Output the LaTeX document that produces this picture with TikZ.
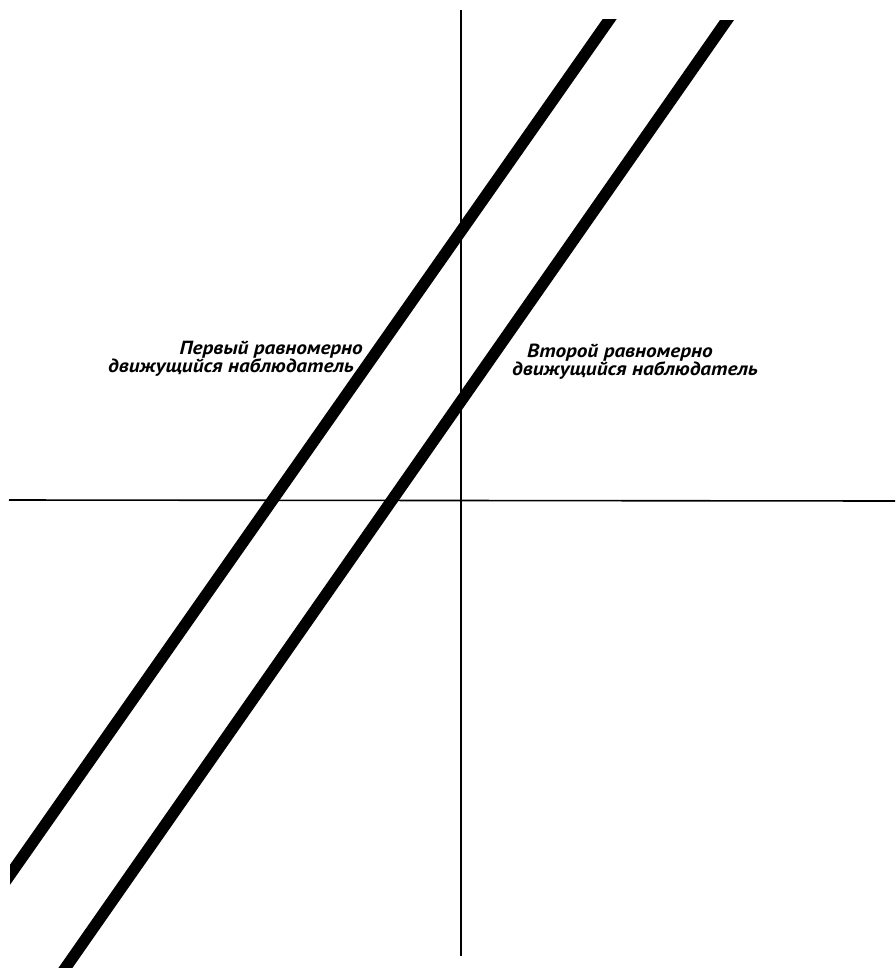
\documentclass[tikz,border=0pt]{standalone}
\usepackage{fontspec}
\usepackage{tikz}
\newfontfamily\obsfont[FakeStretch=1.12]{PT Sans}
\tikzset{axis/.style={line width=1.6pt},
  worldline/.style={line width=11.5pt},
  obslabel/.style={inner sep=0pt, font=\obsfont\bfseries\itshape\fontsize{19}{22}\selectfont}}

\begin{document}
\begin{tikzpicture}[x=1pt, y=-1pt]
\useasboundingbox (0,0) rectangle (895,970);
% axes
\coordinate (ytop) at (461,10);
\coordinate (ybot) at (461,956);
\coordinate (xleft) at (9,500);
\coordinate (xright) at (895,501);
\draw[axis] (ytop) -- (ybot);
\draw[axis] (xleft) -- (xright);
% first observer
\coordinate (first top) at (616,10);
\coordinate (first bot) at (0,889);
\begin{scope}
  \clip (10,19) rectangle (895,970);
  \draw[worldline] (first top) -- (first bot);
\end{scope}
% second observer
\coordinate (second top) at (734,10);
\coordinate (second bot) at (57,980);
\begin{scope}
  \clip (0,20) rectangle (895,967);
  \draw[worldline] (second top) -- (second bot);
\end{scope}
% labels
\node[obslabel, anchor=base east] (first a) at (363,354) {Первый равномерно};
\node[obslabel, anchor=base east] (first b) at (354,372) {движущийся наблюдатель};
\node[obslabel, anchor=base west] (second a) at (527,357) {Второй равномерно};
\node[obslabel, anchor=base west] (second b) at (512,375) {движущийся наблюдатель};
\end{tikzpicture}
\end{document}
